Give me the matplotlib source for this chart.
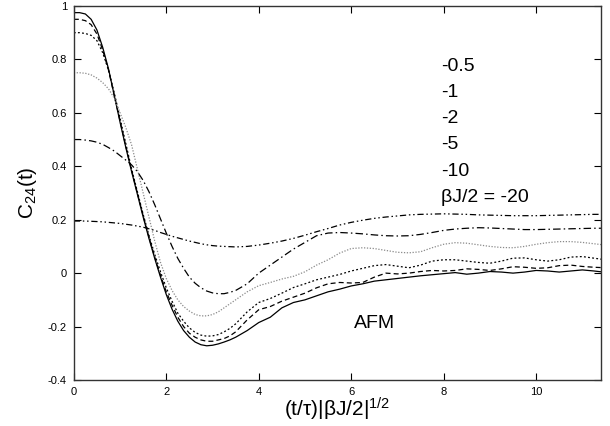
import numpy as np
import matplotlib
matplotlib.use("Agg")
import matplotlib.pyplot as plt

plt.rcParams['font.family'] = ['Liberation Sans', 'DejaVu Sans']
plt.rcParams['mathtext.fontset'] = 'custom'
plt.rcParams['mathtext.rm'] = 'Liberation Sans'
plt.rcParams['mathtext.it'] = 'Liberation Sans'

# time grid (t/tau)|betaJ/2|^{1/2}: finer sampling in the early decay
t = np.concatenate([np.arange(0, 3.51, 0.125), np.arange(3.75, 11.51, 0.25)])

c_m20 = [0.975, 0.975, 0.97, 0.95, 0.91, 0.845, 0.765, 0.665, 0.565, 0.47, 0.38, 0.295,
         0.21, 0.13, 0.055, -0.015, -0.08, -0.135, -0.18, -0.215, -0.24, -0.258, -0.268,
         -0.272, -0.27, -0.265, -0.258, -0.25, -0.24,
         -0.215, -0.185, -0.165, -0.13, -0.11, -0.1, -0.085, -0.07, -0.06, -0.048, -0.04,
         -0.03, -0.025, -0.02, -0.015, -0.01, -0.006, -0.002, 0.002, -0.004, 0.0, 0.006,
         0.004, 0.0, 0.004, 0.01, 0.008, 0.004, 0.008, 0.012, 0.008, 0.003]
c_m10 = [0.95, 0.95, 0.945, 0.93, 0.895, 0.835, 0.76, 0.665, 0.57, 0.475, 0.385, 0.3,
         0.215, 0.135, 0.06, -0.008, -0.07, -0.12, -0.165, -0.2, -0.225, -0.24, -0.25,
         -0.255, -0.255, -0.25, -0.245, -0.235, -0.22,
         -0.175, -0.137, -0.125, -0.105, -0.09, -0.075, -0.055, -0.04, -0.035, -0.037, -0.035,
         -0.015, 0.0, -0.003, 0.0, 0.006, 0.01, 0.008, 0.01, 0.016, 0.014, 0.01,
         0.016, 0.024, 0.022, 0.018, 0.02, 0.028, 0.03, 0.025, 0.022, 0.02]
c_m5 = [0.9, 0.9, 0.897, 0.89, 0.87, 0.825, 0.76, 0.675, 0.58, 0.485, 0.39, 0.305,
        0.22, 0.142, 0.07, 0.005, -0.055, -0.105, -0.15, -0.18, -0.205, -0.222, -0.232,
        -0.236, -0.235, -0.23, -0.22, -0.207, -0.19,
        -0.145, -0.11, -0.095, -0.075, -0.054, -0.04, -0.025, -0.015, -0.005, 0.008, 0.018,
        0.028, 0.032, 0.026, 0.02, 0.03, 0.045, 0.05, 0.05, 0.045, 0.04, 0.037,
        0.045, 0.056, 0.057, 0.05, 0.045, 0.05, 0.06, 0.062, 0.056, 0.05]
c_m2 = [0.75, 0.75, 0.748, 0.742, 0.73, 0.713, 0.69, 0.655, 0.6, 0.545, 0.48, 0.39,
        0.30, 0.21, 0.12, 0.04, -0.02, -0.065, -0.1, -0.125, -0.142, -0.155, -0.16,
        -0.16, -0.155, -0.145, -0.13, -0.115, -0.1,
        -0.07, -0.047, -0.035, -0.022, -0.012, 0.005, 0.03, 0.05, 0.075, 0.092, 0.095,
        0.092, 0.085, 0.078, 0.076, 0.08, 0.095, 0.108, 0.114, 0.112, 0.106, 0.1,
        0.096, 0.095, 0.1, 0.108, 0.114, 0.118, 0.118, 0.115, 0.11, 0.105]
c_m1 = [0.5, 0.5, 0.498, 0.495, 0.49, 0.482, 0.47, 0.457, 0.44, 0.423, 0.405, 0.38,
        0.347, 0.305, 0.256, 0.203, 0.15, 0.1, 0.055, 0.018, -0.015, -0.038, -0.055,
        -0.067, -0.074, -0.077, -0.077, -0.072, -0.065,
        -0.04, 0.0, 0.03, 0.06, 0.09, 0.115, 0.14, 0.15, 0.152, 0.15, 0.147,
        0.143, 0.14, 0.139, 0.14, 0.145, 0.152, 0.16, 0.165, 0.168, 0.17, 0.169,
        0.167, 0.165, 0.163, 0.163, 0.164, 0.165, 0.166, 0.167, 0.168, 0.168]
c_m05 = [0.195, 0.195, 0.195, 0.194, 0.193, 0.192, 0.19, 0.188, 0.186, 0.183, 0.18, 0.176,
         0.172, 0.166, 0.16, 0.152, 0.145, 0.138, 0.132, 0.126, 0.12, 0.115, 0.11,
         0.106, 0.103, 0.101, 0.1, 0.099, 0.098,
         0.1, 0.105, 0.112, 0.12, 0.13, 0.142, 0.155, 0.167, 0.18, 0.19, 0.198,
         0.205, 0.21, 0.214, 0.218, 0.22, 0.221, 0.222, 0.221, 0.22, 0.218, 0.217,
         0.216, 0.215, 0.215, 0.215, 0.216, 0.217, 0.218, 0.219, 0.22, 0.22]

labels = ["-0.5", "-1", "-2", "-5", "-10", "βJ/2 = -20"]

fig = plt.figure(figsize=(6.10, 4.26), dpi=100)
ax = fig.add_axes([0.121, 0.108, 0.864, 0.878])

lw = 0.9
ax.plot(t, c_m20, color='black', lw=lw, linestyle='-')
ax.plot(t, c_m10, color='black', lw=lw, linestyle=(0, (4, 2.5)))
ax.plot(t, c_m5, color='black', lw=lw, linestyle=(0, (1.5, 1.8)))
ax.plot(t, c_m2, color='#8a8a8a', lw=lw, linestyle=(0, (1, 1.3)))
ax.plot(t, c_m1, color='black', lw=lw, linestyle=(0, (6, 2.5, 1.2, 2.5)))
ax.plot(t, c_m05, color='black', lw=lw, linestyle=(0, (5, 2.2, 1.2, 2.2, 1.2, 2.2)))

ax.set_xlim(0, 11.4)
ax.set_ylim(-0.4, 1.0)
ax.set_xticks([0, 2, 4, 6, 8, 10])
ax.set_xticklabels(["0", "2", "4", "6", "8", "10"])
ax.set_yticks([-0.4, -0.2, 0, 0.2, 0.4, 0.6, 0.8, 1])
ax.set_yticklabels(["-0.4", "-0.2", "0", "0.2", "0.4", "0.6", "0.8", "1"])
ax.tick_params(direction='in', length=5, width=0.8, top=True, right=True,
               labelsize=8, pad=5)
for s in ax.spines.values():
    s.set_linewidth(1.0)
    s.set_color('#333333')

ax.set_xlabel(r"(t/τ)|βJ/2|$^{1/2}$", fontsize=15, labelpad=-1)
ax.set_ylabel(r"C$_{24}$(t)", fontsize=15, labelpad=6)

ys = [0.775, 0.675, 0.578, 0.48, 0.38, 0.283]
for lab, yv in zip(labels, ys):
    ax.text(7.95, yv, lab, fontsize=14, va='center', ha='left')

ax.text(6.5, -0.19, "AFM", fontsize=14, va='center', ha='center')

fig.savefig("out.png", dpi=100)
